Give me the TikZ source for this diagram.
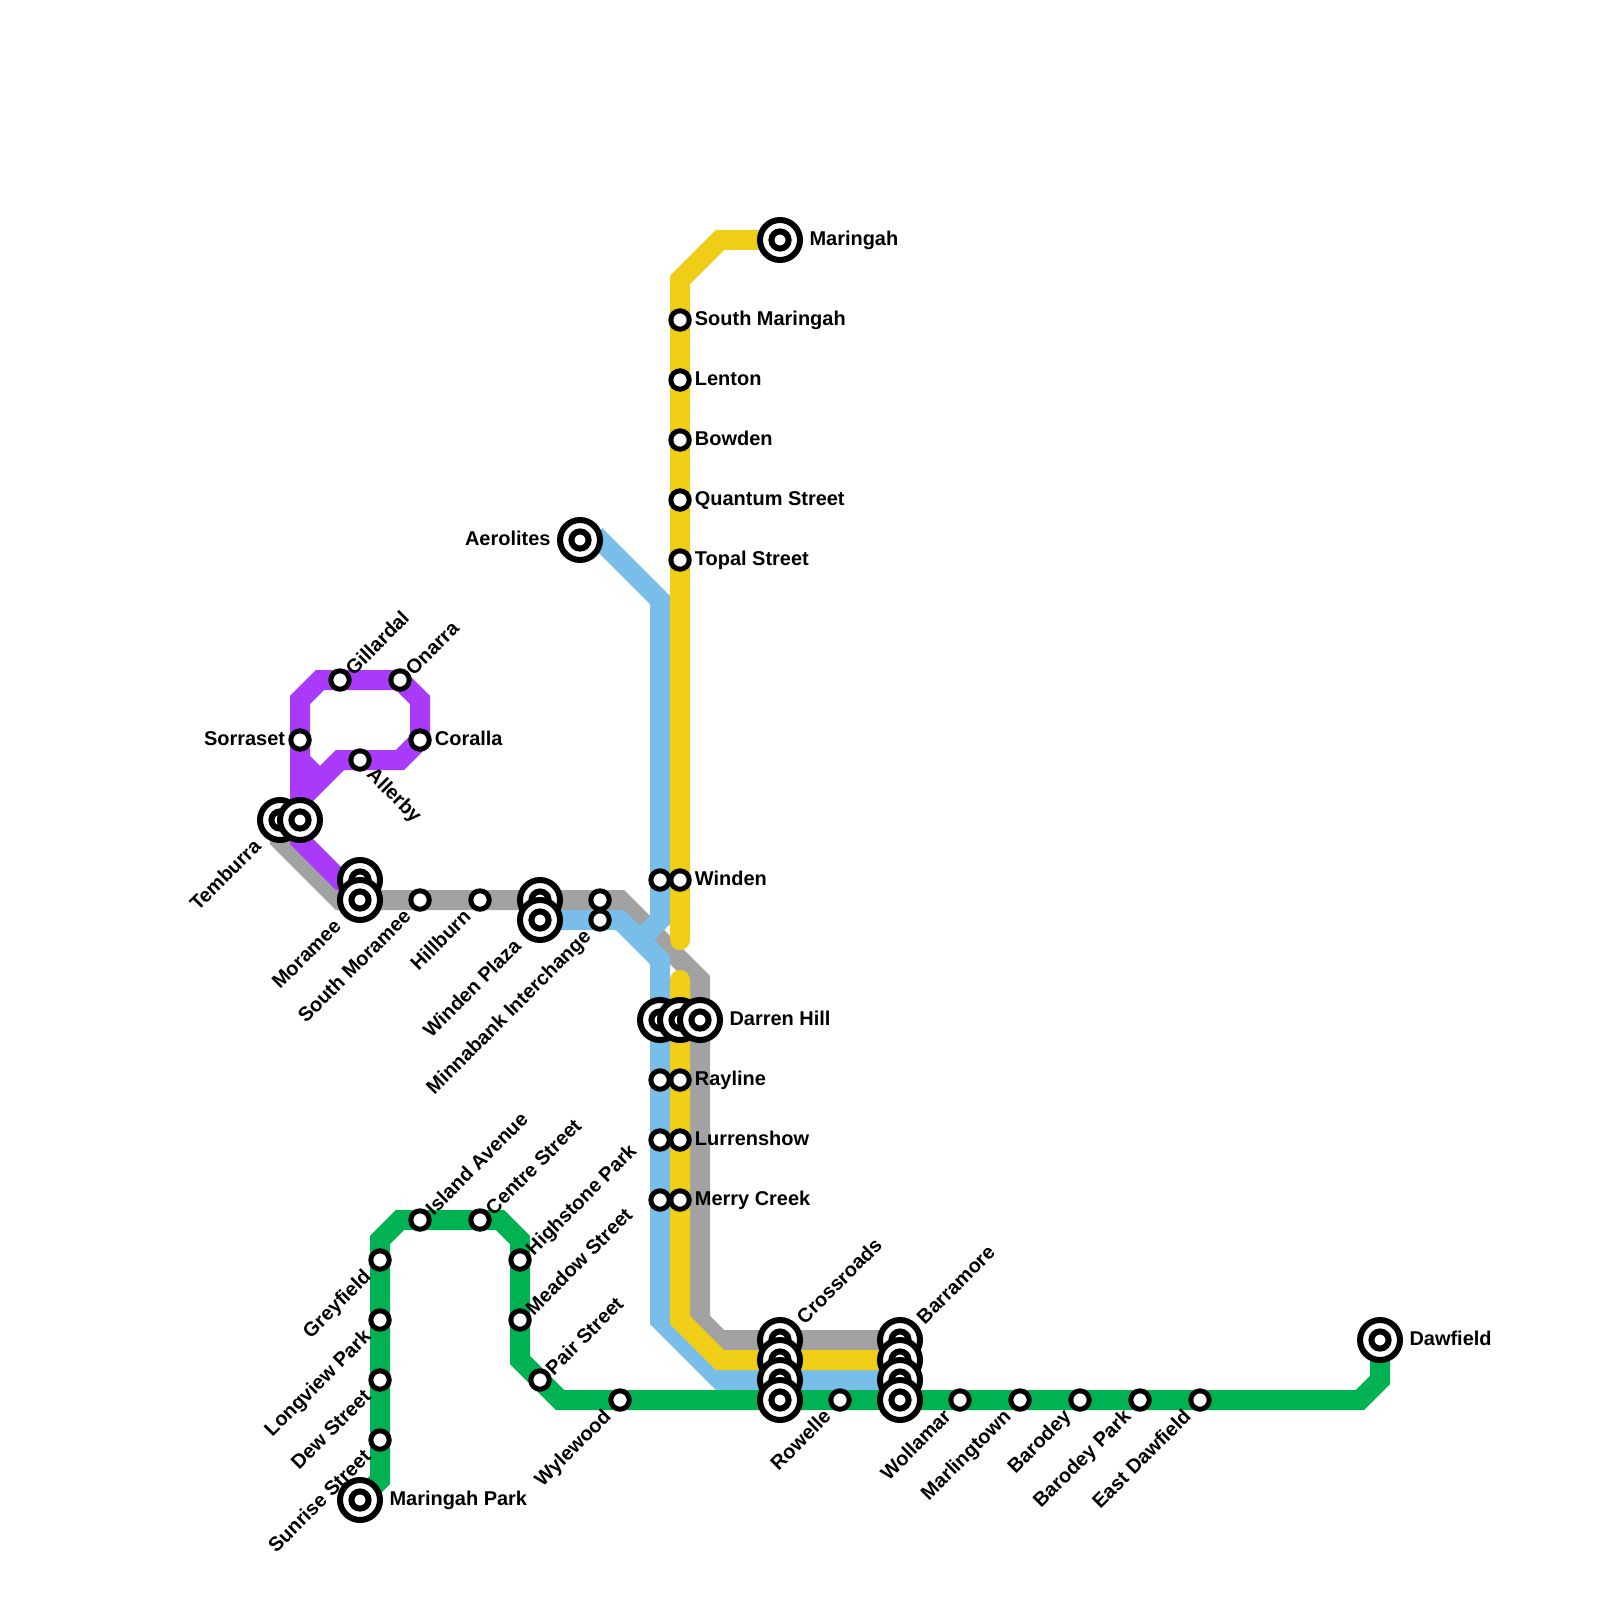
\documentclass[tikz,border=0pt]{standalone}
\usepackage{fontspec}
\usepackage{tikz}
\usepackage{xcolor}
\usetikzlibrary{backgrounds}
\setmainfont{Liberation Sans}
\definecolor{linepurple}{HTML}{AA3AF9}
\definecolor{linegrey}{HTML}{A2A2A2}
\definecolor{lineblue}{HTML}{79BDE9}
\definecolor{lineyellow}{HTML}{F0CE15}
\definecolor{linegreen}{HTML}{00B251}
\tikzset{
  stn/.style={circle,draw=black,fill=white,line width=1.25mm,minimum size=4.6mm,inner sep=0pt,outer sep=0pt},
  ich/.style={circle,draw=black,fill=white,line width=1.5mm,minimum size=10mm,inner sep=0pt,outer sep=0pt,
    path picture={\draw[line width=1.5mm] (path picture bounding box.center) circle (2.15mm);}},
  lbl/.style={font=\bfseries\fontsize{14.2}{14.2}\selectfont,inner ysep=0pt,inner xsep=#1,outer sep=0pt,text height=10pt,text depth=0pt},
  lble/.style={lbl=#1,anchor=west,yshift=1pt},
  lble/.default=10.6pt,
  lblw/.style={lbl=#1,anchor=east,yshift=1pt},
  lblw/.default=10.6pt,
  lblne/.style={lbl=#1,anchor=west,rotate=45},
  lblne/.default=9pt,
  lblsw/.style={lbl=#1,anchor=east,rotate=45},
  lblsw/.default=13pt,
  lblse/.style={lbl=#1,anchor=west,rotate=-45},
  lblse/.default=11pt,
  metro/.style={line width=5mm}
}
\begin{document}
\begin{tikzpicture}[x=0.25mm,y=-0.25mm]
  \useasboundingbox (0,0) rectangle (1600,1600);
  % bends
  \coordinate (pk) at (340,880);
  \coordinate (pl) at (300,840);
  \coordinate (pa) at (300,700);
  \coordinate (pb) at (320,680);
  \coordinate (pc) at (400,680);
  \coordinate (pd) at (420,700);
  \coordinate (pe) at (420,740);
  \coordinate (pf) at (400,760);
  \coordinate (pg) at (340,760);
  \coordinate (ph) at (300,800);
  \coordinate (pi) at (300,760);
  \coordinate (pj) at (320,780);
  \coordinate (gf) at (280,840);
  \coordinate (ge) at (340,900);
  \coordinate (ga) at (620,900);
  \coordinate (gb) at (700,980);
  \coordinate (gc) at (700,1320);
  \coordinate (gd) at (720,1340);
  \coordinate (bh) at (595,535);
  \coordinate (ba) at (660,600);
  \coordinate (bb) at (660,920);
  \coordinate (bc) at (640,940);
  \coordinate (bd) at (620,920);
  \coordinate (be) at (660,960);
  \coordinate (bf) at (660,1320);
  \coordinate (bg) at (720,1380);
  \coordinate (ya) at (720,240);
  \coordinate (yb) at (680,280);
  \coordinate (yc) at (680,940);
  \coordinate (yd) at (680,980);
  \coordinate (ye) at (680,1320);
  \coordinate (yf) at (720,1360);
  \coordinate (na) at (380,1480);
  \coordinate (nb) at (380,1240);
  \coordinate (nc) at (400,1220);
  \coordinate (nd) at (500,1220);
  \coordinate (ne) at (520,1240);
  \coordinate (nf) at (520,1360);
  \coordinate (ng) at (560,1400);
  \coordinate (nh) at (1360,1400);
  \coordinate (ni) at (1380,1380);
  % purple loop
  \node[stn] (gillardal) at (340,680) {};
  \node[stn] (onarra) at (400,680) {};
  \node[stn] (sorraset) at (300,740) {};
  \node[stn] (coralla) at (420,740) {};
  \node[stn] (allerby) at (360,760) {};
  \node[ich] (temburraA) at (280,820) {};
  \node[ich] (temburraB) at (300,820) {};
  % grey line
  \node[ich] (morameeA) at (360,880) {};
  \node[ich] (morameeB) at (360,900) {};
  \node[stn] (southmoramee) at (420,900) {};
  \node[stn] (hillburn) at (480,900) {};
  \node[ich] (windenplazaA) at (540,900) {};
  \node[ich] (windenplazaB) at (540,920) {};
  \node[stn] (minnabankA) at (600,900) {};
  \node[stn] (minnabankB) at (600,920) {};
  % yellow line
  \node[ich] (maringah) at (780,240) {};
  \node[stn] (southmaringah) at (680,320) {};
  \node[stn] (lenton) at (680,380) {};
  \node[stn] (bowden) at (680,440) {};
  \node[stn] (quantum) at (680,500) {};
  \node[stn] (topal) at (680,560) {};
  \node[ich] (aerolites) at (580,540) {};
  \node[stn] (windenA) at (660,880) {};
  \node[stn] (windenB) at (680,880) {};
  \node[ich] (darrenA) at (660,1020) {};
  \node[ich] (darrenB) at (680,1020) {};
  \node[ich] (darrenC) at (700,1020) {};
  \node[stn] (raylineA) at (660,1080) {};
  \node[stn] (raylineB) at (680,1080) {};
  \node[stn] (lurrenshowA) at (660,1140) {};
  \node[stn] (lurrenshowB) at (680,1140) {};
  \node[stn] (merrycreekA) at (660,1200) {};
  \node[stn] (merrycreekB) at (680,1200) {};
  % green line
  \node[ich] (maringahpark) at (360,1500) {};
  \node[stn] (sunrise) at (380,1440) {};
  \node[stn] (dew) at (380,1380) {};
  \node[stn] (longview) at (380,1320) {};
  \node[stn] (greyfield) at (380,1260) {};
  \node[stn] (island) at (420,1220) {};
  \node[stn] (centre) at (480,1220) {};
  \node[stn] (highstone) at (520,1260) {};
  \node[stn] (meadow) at (520,1320) {};
  \node[stn] (pair) at (540,1380) {};
  \node[stn] (wylewood) at (620,1400) {};
  \node[ich] (crossroadsA) at (780,1340) {};
  \node[ich] (crossroadsB) at (780,1360) {};
  \node[ich] (crossroadsC) at (780,1380) {};
  \node[ich] (crossroadsD) at (780,1400) {};
  \node[stn] (rowelle) at (840,1400) {};
  \node[ich] (barramoreA) at (900,1340) {};
  \node[ich] (barramoreB) at (900,1360) {};
  \node[ich] (barramoreC) at (900,1380) {};
  \node[ich] (barramoreD) at (900,1400) {};
  \node[stn] (wollamar) at (960,1400) {};
  \node[stn] (marlingtown) at (1020,1400) {};
  \node[stn] (barodey) at (1080,1400) {};
  \node[stn] (barodeypark) at (1140,1400) {};
  \node[stn] (eastdawfield) at (1200,1400) {};
  \node[ich] (dawfield) at (1380,1340) {};
  % lines go under the stations
  \begin{scope}[on background layer]
    \draw[metro,linegrey] (temburraA.center)--(gf)--(ge)--(morameeB.center)--(ga)--(gb)--(gc)--(gd)--(barramoreA.center);
    \draw[metro,linepurple] (morameeA.center)--(pk)--(pl)--(temburraB.center)--(pa)--(pb)--(pc)--(pd)--(pe)--(pf)--(pg)--(ph);
    \draw[metro,linepurple] (pi)--(pj);
    \draw[metro,lineblue] (bh)--(ba)--(bb)--(bc);
    \draw[metro,lineblue] (windenplazaB.center)--(bd)--(be)--(bf)--(bg)--(barramoreC.center);
    \draw[metro,lineyellow,line cap=round] (maringah.center)--(ya)--(yb)--(yc);
    \draw[metro,lineyellow,line cap=round] (yd)--(ye)--(yf)--(barramoreB.center);
    \draw[metro,linegreen] (maringahpark.center)--(na)--(nb)--(nc)--(nd)--(ne)--(nf)--(ng)--(nh)--(ni)--(dawfield.center);
  \end{scope}
  % labels
  \node[lblne] (gillardaltxt) at (gillardal) {Gillardal};
  \node[lblne] (onarratxt) at (onarra) {Onarra};
  \node[lblw] (sorrasettxt) at (sorraset) {Sorraset};
  \node[lble] (corallatxt) at (coralla) {Coralla};
  \node[lblse] (allerbytxt) at (allerby) {Allerby};
  \node[lblsw=23pt] (temburratxt) at (temburraA) {Temburra};
  \node[lblsw=23pt] (morameetxt) at (morameeB) {Moramee};
  \node[lblsw] (southmorameetxt) at (southmoramee) {South Moramee};
  \node[lblsw] (hillburntxt) at (hillburn) {Hillburn};
  \node[lblsw=23pt] (windenplazatxt) at (windenplazaB) {Winden Plaza};
  \node[lblsw] (minnabanktxt) at (minnabankB) {Minnabank Interchange};
  \node[lble=21pt] (maringahtxt) at (maringah) {Maringah};
  \node[lble] (southmaringahtxt) at (southmaringah) {South Maringah};
  \node[lble] (lentontxt) at (lenton) {Lenton};
  \node[lble] (bowdentxt) at (bowden) {Bowden};
  \node[lble] (quantumtxt) at (quantum) {Quantum Street};
  \node[lble] (topaltxt) at (topal) {Topal Street};
  \node[lblw=21pt] (aerolitestxt) at (aerolites) {Aerolites};
  \node[lble] (windentxt) at (windenB) {Winden};
  \node[lble=21pt] (darrentxt) at (darrenC) {Darren Hill};
  \node[lble] (raylinetxt) at (raylineB) {Rayline};
  \node[lble] (lurrenshowtxt) at (lurrenshowB) {Lurrenshow};
  \node[lble] (merrycreektxt) at (merrycreekB) {Merry Creek};
  \node[lble=21pt] (maringahparktxt) at (maringahpark) {Maringah Park};
  \node[lblsw] (sunrisetxt) at (sunrise) {Sunrise Street};
  \node[lblsw] (dewtxt) at (dew) {Dew Street};
  \node[lblsw] (longviewtxt) at (longview) {Longview Park};
  \node[lblsw] (greyfieldtxt) at (greyfield) {Greyfield};
  \node[lblne] (islandtxt) at (island) {Island Avenue};
  \node[lblne] (centretxt) at (centre) {Centre Street};
  \node[lblne] (highstonetxt) at (highstone) {Highstone Park};
  \node[lblne] (meadowtxt) at (meadow) {Meadow Street};
  \node[lblne] (pairtxt) at (pair) {Pair Street};
  \node[lblsw] (wylewoodtxt) at (wylewood) {Wylewood};
  \node[lblne=20pt] (crossroadstxt) at (crossroadsA) {Crossroads};
  \node[lblsw] (rowelletxt) at (rowelle) {Rowelle};
  \node[lblne=20pt] (barramoretxt) at (barramoreA) {Barramore};
  \node[lblsw] (wollamartxt) at (wollamar) {Wollamar};
  \node[lblsw] (marlingtowntxt) at (marlingtown) {Marlingtown};
  \node[lblsw] (barodeytxt) at (barodey) {Barodey};
  \node[lblsw] (barodeyparktxt) at (barodeypark) {Barodey Park};
  \node[lblsw] (eastdawfieldtxt) at (eastdawfield) {East Dawfield};
  \node[lble=21pt] (dawfieldtxt) at (dawfield) {Dawfield};
\end{tikzpicture}
\end{document}
